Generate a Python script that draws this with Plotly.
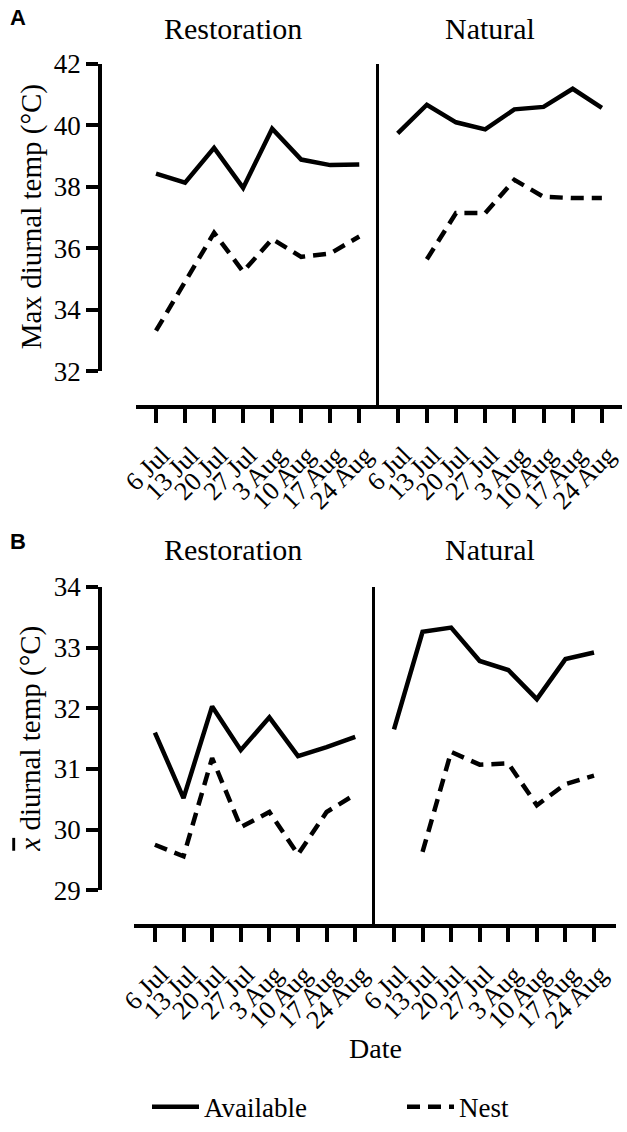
import plotly.graph_objects as go

W, H = 627, 1132

dates = ["6 Jul", "13 Jul", "20 Jul", "27 Jul", "3 Aug", "10 Aug", "17 Aug", "24 Aug"]

# Panel A: max diurnal temperature (°C)
rest_avail_max = [38.42, 38.13, 39.26, 37.96, 39.88, 38.88, 38.70, 38.72]
rest_nest_max = [33.32, 34.90, 36.50, 35.24, 36.30, 35.72, 35.83, 36.38]
nat_avail_max = [39.73, 40.66, 40.09, 39.86, 40.51, 40.59, 41.18, 40.56]
nat_nest_max = [None, 35.64, 37.14, 37.14, 38.22, 37.67, 37.63, 37.63]

# Panel B: mean diurnal temperature (°C)
rest_avail_mean = [31.60, 30.52, 32.03, 31.31, 31.85, 31.21, 31.36, 31.53]
rest_nest_mean = [29.75, 29.56, 31.18, 30.04, 30.29, 29.59, 30.29, 30.58]
nat_avail_mean = [31.65, 33.26, 33.33, 32.78, 32.63, 32.15, 32.81, 32.92]
nat_nest_mean = [None, 29.63, 31.28, 31.07, 31.09, 30.40, 30.75, 30.89]

SERIF = "Liberation Serif, Times New Roman, serif"
LW = 4.5
DASH = "13px,8px"


def fx(px):
    return px / W


def fy(py):
    return 1 - py / H


fig = go.Figure()

panels = [
    ("x", "y", "x2", "y2", rest_avail_max, rest_nest_max, nat_avail_max, nat_nest_max, True),
    ("x3", "y3", "x4", "y4", rest_avail_mean, rest_nest_mean, nat_avail_mean, nat_nest_mean, False),
]

for xr, yr, xn, yn, ra, rn, na, nn, legend in panels:
    fig.add_trace(go.Scatter(x=dates, y=ra, xaxis=xr, yaxis=yr, mode="lines",
                             line=dict(color="black", width=LW), name="Available",
                             showlegend=legend, legend="legend"))
    fig.add_trace(go.Scatter(x=dates, y=rn, xaxis=xr, yaxis=yr, mode="lines",
                             line=dict(color="black", width=LW, dash=DASH), name="Nest",
                             showlegend=legend, legend="legend2"))
    fig.add_trace(go.Scatter(x=dates, y=na, xaxis=xn, yaxis=yn, mode="lines",
                             line=dict(color="black", width=LW), name="Available",
                             showlegend=False))
    fig.add_trace(go.Scatter(x=dates, y=nn, xaxis=xn, yaxis=yn, mode="lines",
                             line=dict(color="black", width=LW, dash=DASH), name="Nest",
                             showlegend=False, connectgaps=False))

xcommon = dict(type="category", categoryarray=dates, categoryorder="array",
               tickmode="array", tickvals=dates, ticktext=dates,
               showline=True, linecolor="black", linewidth=3.5,
               ticks="outside", ticklen=14, tickwidth=3.5, tickcolor="black",
               tickangle=-45, tickfont=dict(family=SERIF, size=26, color="black"),
               ticklabelstandoff=7, ticklabelshift=6,
               showgrid=False, zeroline=False, fixedrange=True, automargin=False)
ycommon = dict(showline=True, linecolor="black", linewidth=3.5,
               ticks="outside", ticklen=12, tickwidth=3.5, tickcolor="black",
               tickfont=dict(family=SERIF, size=27, color="black"),
               showgrid=False, zeroline=False, fixedrange=True, automargin=False)
ydivider = dict(showline=True, linecolor="black", linewidth=3, ticks="",
                showticklabels=False, showgrid=False, zeroline=False, fixedrange=True,
                automargin=False)

fig.update_layout(
    template="none",
    yaxis=dict(ycommon, domain=[fy(376), fy(64.3)], range=[32, 42], dtick=2, tick0=32,
               anchor="free", position=fx(100)),
    yaxis2=dict(ydivider, domain=[fy(410), fy(64.3)], range=[30.91, 42], anchor="x2"),
    xaxis=dict(xcommon, domain=[fx(135.7), fx(379.3)], range=[-0.70, 7.69], anchor="y2"),
    xaxis2=dict(xcommon, domain=[fx(379.3), fx(622)], range=[-0.63, 7.69], anchor="y2"),
    yaxis3=dict(ycommon, domain=[fy(901.4), fy(594.3)], range=[29, 34], dtick=1, tick0=29,
                anchor="free", position=fx(100)),
    yaxis4=dict(ydivider, domain=[fy(935.7), fy(594.3)], range=[28.44, 34], anchor="x4"),
    xaxis3=dict(xcommon, domain=[fx(134), fx(374.7)], range=[-0.73, 7.68], anchor="y4"),
    xaxis4=dict(xcommon, domain=[fx(374.7), fx(616)], range=[-0.675, 7.77], anchor="y4"),
)

ann = []
for letter, py in (("A", 18), ("B", 548)):
    ann.append(dict(text="<b>%s</b>" % letter, x=fx(18), y=fy(py), xref="paper", yref="paper",
                    showarrow=False, xanchor="center", yanchor="middle",
                    font=dict(family="Liberation Sans, Arial, sans-serif", size=22,
                              color="black")))
for py in (29, 556):
    ann.append(dict(text="Restoration", x=fx(233), y=fy(py), xref="paper", yref="paper",
                    showarrow=False, xanchor="center", yanchor="middle",
                    font=dict(family=SERIF, size=30, color="black")))
    ann.append(dict(text="Natural", x=fx(490), y=fy(py), xref="paper", yref="paper",
                    showarrow=False, xanchor="center", yanchor="middle",
                    font=dict(family=SERIF, size=30, color="black")))
ann.append(dict(text="Max diurnal temp (°C)", x=fx(31), y=fy(220), xref="paper", yref="paper",
                showarrow=False, textangle=-90, xanchor="center", yanchor="middle",
                font=dict(family=SERIF, size=29, color="black")))
ann.append(dict(text="<i><span style='text-decoration:overline'>x</span></i> diurnal temp (°C)",
                x=fx(31), y=fy(748), xref="paper",
                yref="paper", showarrow=False, textangle=-90, xanchor="center", yanchor="middle",
                font=dict(family=SERIF, size=29, color="black")))
ann.append(dict(text="Date", x=fx(376), y=fy(1062), xref="paper", yref="paper",
                showarrow=False, xanchor="center", yanchor="middle",
                font=dict(family=SERIF, size=28, color="black")))

fig.update_layout(
    annotations=ann,
    font=dict(family=SERIF, color="black"),
    width=W, height=H, autosize=False,
    margin=dict(l=0, r=0, t=0, b=0, pad=0),
    paper_bgcolor="white", plot_bgcolor="white",
    legend=dict(x=fx(147), y=fy(1121), xanchor="left", yanchor="middle",
                orientation="h", bgcolor="rgba(0,0,0,0)", borderwidth=0, itemwidth=47,
                font=dict(family=SERIF, size=27, color="black")),
    legend2=dict(x=fx(402), y=fy(1121), xanchor="left", yanchor="middle",
                 orientation="h", bgcolor="rgba(0,0,0,0)", borderwidth=0, itemwidth=47,
                 font=dict(family=SERIF, size=27, color="black")),
)

fig.write_html("out.html")
